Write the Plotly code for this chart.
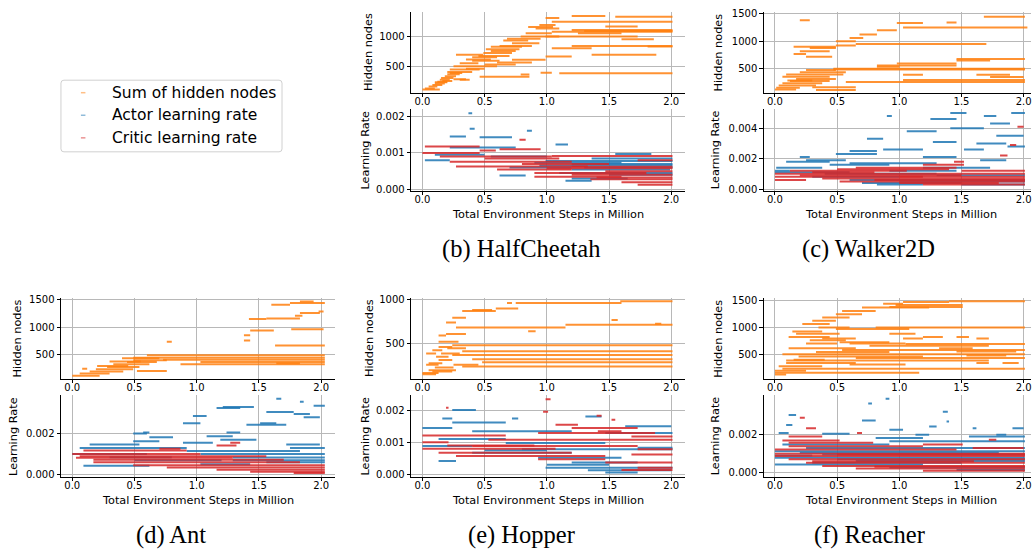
import plotly.graph_objects as go

W, H = 1032, 554

# ---------------- data: segments [x_start, x_end, value] (x in million steps) -------------
# (b) HalfCheetah
hc_hidden = [
    [0.00, 0.14, 135], [0.02, 0.10, 150], [0.05, 0.12, 180], [0.08, 0.16, 205], [0.10, 0.18, 230],
    [0.12, 0.20, 260], [0.14, 0.22, 290], [0.15, 0.25, 320], [0.18, 0.27, 350], [0.20, 0.30, 380],
    [0.22, 0.32, 400], [0.16, 0.24, 270], [0.25, 0.35, 300], [0.30, 0.38, 290], [0.10, 0.20, 250],
    [0.46, 0.86, 340], [0.79, 0.86, 376], [0.25, 0.60, 510], [0.22, 0.46, 457], [0.60, 0.88, 575],
    [0.72, 0.99, 618], [0.27, 0.49, 700], [0.49, 0.72, 726], [0.51, 0.78, 790], [0.62, 0.88, 844],
    [0.72, 0.94, 887], [0.79, 1.10, 995], [0.83, 1.04, 1048], [0.91, 1.10, 1129], [0.94, 1.07, 1183],
    [0.99, 1.10, 1300], [0.30, 0.45, 560], [0.35, 0.55, 620], [0.40, 0.60, 660], [0.55, 0.75, 760],
    [0.65, 0.85, 930], [0.95, 1.04, 405], [1.10, 2.01, 398], [0.99, 1.20, 672], [1.36, 1.88, 699],
    [1.04, 1.36, 806], [1.20, 2.01, 844], [1.81, 2.01, 833], [1.04, 2.01, 1075], [1.20, 2.01, 1102],
    [0.99, 1.73, 995], [1.04, 2.01, 1237], [1.55, 2.01, 1317], [1.20, 1.47, 1330], [1.47, 1.73, 1160],
    [1.60, 1.86, 950], [0.40, 0.62, 600], [0.45, 0.70, 680], [0.55, 0.80, 830], [0.68, 0.95, 960],
    [0.85, 1.05, 1150], [0.20, 0.40, 420], [0.35, 0.50, 470], [0.50, 0.75, 540], [1.30, 2.01, 1085],
    [1.25, 1.60, 1050],
]
hc_actor_lr = [
    [0.02, 0.22, 0.00080], [0.22, 0.75, 0.00115], [0.46, 0.72, 0.00143], [0.22, 0.35, 0.00145],
    [0.37, 0.40, 0.00209], [0.38, 0.42, 0.00166], [0.84, 0.88, 0.00161], [1.07, 1.17, 0.00123],
    [1.55, 1.84, 0.00097], [0.99, 2.01, 0.00078], [1.20, 2.01, 0.00070], [0.94, 2.01, 0.00066],
    [1.20, 1.99, 0.00055], [1.10, 2.01, 0.00045], [1.20, 1.65, 0.00030], [1.15, 1.36, 0.00024],
    [1.36, 2.01, 0.00085], [0.62, 0.83, 0.00038], [0.10, 0.50, 0.00095], [0.55, 1.00, 0.00090],
    [0.70, 1.20, 0.00060], [0.90, 1.60, 0.00073], [1.30, 2.01, 0.00060], [1.50, 2.01, 0.00040],
]
hc_critic_lr = [
    [0.00, 0.46, 0.00100], [0.02, 0.46, 0.00118], [0.14, 1.04, 0.00090], [0.22, 1.20, 0.00076],
    [0.27, 1.33, 0.00063], [1.73, 2.01, 0.00080], [1.20, 2.01, 0.00062], [1.47, 2.01, 0.00050],
    [1.20, 2.01, 0.00040], [1.35, 2.01, 0.00028], [1.60, 2.01, 0.00020], [1.73, 2.01, 0.00013],
    [1.04, 2.01, 0.00092], [0.78, 0.83, 0.00136], [0.46, 0.59, 0.00107], [0.50, 1.10, 0.00085],
    [0.60, 1.20, 0.00055], [0.90, 1.60, 0.00035], [0.62, 0.95, 0.00110], [0.80, 1.50, 0.00070],
    [1.00, 2.01, 0.00058], [0.90, 1.80, 0.00045], [1.40, 2.01, 0.00033],
]

# (c) Walker2D
wk_hidden = [
    [0.49, 0.65, 923], [0.65, 1.70, 950], [1.03, 2.03, 1250], [1.68, 2.01, 1440], [0.20, 0.28, 1380],
    [0.98, 1.19, 1330], [1.38, 1.46, 1340], [0.82, 0.98, 1200], [0.68, 0.82, 1120], [0.60, 0.71, 1060],
    [0.15, 0.49, 900], [0.28, 0.49, 880], [0.20, 0.44, 820], [0.15, 0.25, 770], [0.25, 0.46, 720],
    [1.46, 2.01, 680], [1.46, 1.73, 650], [0.98, 1.46, 600], [0.82, 1.46, 560], [0.47, 2.01, 505],
    [0.47, 2.01, 490], [0.57, 2.01, 265], [1.03, 2.01, 300], [0.00, 0.17, 130], [0.01, 0.20, 160],
    [0.03, 0.33, 200], [0.06, 0.38, 240], [0.12, 0.44, 280], [0.17, 0.49, 320], [0.06, 0.44, 360],
    [0.09, 0.55, 400], [0.20, 0.57, 440], [0.25, 0.49, 480], [0.30, 0.65, 170], [0.33, 0.65, 120],
    [1.03, 1.19, 394], [1.62, 1.89, 394], [1.73, 2.00, 353], [0.49, 0.65, 1000], [0.82, 1.00, 540],
    [0.10, 0.30, 290],
]
wk_actor_lr = [
    [1.41, 1.54, 0.0050], [1.90, 2.01, 0.0050], [0.90, 0.94, 0.0048], [1.68, 1.78, 0.0048],
    [1.25, 1.46, 0.0046], [1.73, 1.89, 0.0043], [1.41, 1.68, 0.0040], [1.06, 1.30, 0.0038],
    [1.78, 2.00, 0.0035], [0.74, 0.87, 0.0033], [1.62, 1.86, 0.0030], [1.27, 1.46, 0.0031],
    [1.87, 2.01, 0.0028], [0.87, 1.19, 0.0026], [1.52, 1.68, 0.0026], [0.60, 0.82, 0.0025],
    [0.49, 0.82, 0.0023], [0.20, 0.28, 0.0021], [1.19, 1.46, 0.0021], [0.25, 0.57, 0.0019],
    [1.65, 1.86, 0.0019], [0.09, 0.44, 0.0018], [0.44, 0.92, 0.0016], [0.01, 0.38, 0.0014],
    [1.19, 1.73, 0.0014], [0.00, 0.12, 0.0012], [0.92, 1.46, 0.0012], [0.30, 1.00, 0.0008],
    [0.60, 2.01, 0.0006], [0.70, 1.50, 0.0004], [0.82, 1.19, 0.0003], [1.30, 2.01, 0.0009],
    [1.50, 2.01, 0.0003], [0.00, 0.60, 0.0011], [0.40, 1.30, 0.0010], [1.00, 2.01, 0.0005],
    [0.60, 1.30, 0.0017],
]
wk_critic_lr = [
    [0.00, 2.01, 0.0010], [0.12, 1.06, 0.0012], [0.00, 1.19, 0.0008], [0.38, 2.01, 0.0007],
    [0.52, 2.01, 0.0005], [1.19, 2.01, 0.0003], [0.65, 1.46, 0.0014], [1.19, 1.52, 0.0016],
    [1.44, 1.52, 0.0018], [1.81, 1.87, 0.0022], [1.89, 1.94, 0.0029], [1.95, 2.00, 0.0041],
    [0.00, 0.25, 0.0006], [1.50, 2.01, 0.0012], [0.30, 0.80, 0.0011], [1.00, 1.80, 0.0004],
    [0.20, 1.50, 0.0009], [0.80, 2.01, 0.0006], [1.00, 2.01, 0.0008], [0.50, 1.40, 0.0013],
]

# (d) Ant
ant_hidden = [
    [0.00, 0.22, 120], [0.06, 0.30, 162], [0.14, 0.41, 198], [0.19, 0.49, 240], [0.28, 0.54, 281],
    [0.33, 0.62, 329], [0.44, 0.68, 371], [0.49, 0.76, 401], [0.08, 0.12, 246], [0.52, 0.76, 209],
    [0.60, 2.03, 491], [0.49, 2.03, 449], [0.73, 2.03, 413], [1.03, 2.03, 371], [0.87, 2.03, 329],
    [1.64, 1.83, 347], [0.76, 0.80, 737], [1.38, 1.43, 760], [1.38, 1.43, 856], [1.43, 1.62, 940],
    [1.76, 2.02, 965], [1.42, 1.56, 1150], [1.56, 1.83, 1160], [1.79, 1.85, 1210], [1.83, 1.99, 1257],
    [1.98, 2.02, 1287], [1.60, 1.75, 1407], [1.75, 2.03, 1437], [1.83, 1.94, 1467], [1.63, 2.03, 671],
    [0.40, 0.70, 440], [0.30, 0.55, 380], [0.20, 0.45, 300],
]
ant_actor_lr = [
    [0.00, 0.60, 0.00100], [0.14, 0.54, 0.00147], [0.06, 0.92, 0.00130], [0.49, 0.70, 0.00163],
    [0.49, 0.60, 0.00200], [0.57, 0.62, 0.00206], [0.62, 0.81, 0.00182], [0.89, 1.13, 0.00155],
    [0.92, 1.83, 0.00115], [1.03, 2.03, 0.00100], [1.29, 2.03, 0.00083], [1.29, 2.03, 0.00070],
    [1.56, 2.03, 0.00060], [0.09, 0.62, 0.00043], [1.03, 1.43, 0.00050], [0.97, 1.08, 0.00286],
    [0.89, 1.03, 0.00250], [1.51, 1.64, 0.00250], [1.21, 1.46, 0.00330], [1.16, 1.35, 0.00325],
    [1.56, 1.78, 0.00306], [1.78, 1.91, 0.00296], [1.86, 1.99, 0.00280], [1.40, 1.72, 0.00243],
    [1.24, 1.35, 0.00206], [1.08, 1.29, 0.00187], [1.19, 1.48, 0.00170], [1.64, 1.68, 0.00370],
    [1.83, 1.86, 0.00355], [1.94, 2.03, 0.00336], [1.72, 1.99, 0.00147], [1.75, 2.03, 0.00130],
    [0.30, 0.80, 0.00085], [0.50, 1.20, 0.00070],
]
ant_critic_lr = [
    [0.00, 1.03, 0.00100], [0.09, 0.92, 0.00118], [0.06, 1.56, 0.00090], [0.03, 1.29, 0.00082],
    [0.17, 1.70, 0.00072], [0.17, 1.83, 0.00060], [0.49, 2.03, 0.00046], [0.76, 2.03, 0.00035],
    [1.16, 2.03, 0.00024], [1.43, 2.03, 0.00014], [1.78, 2.03, 0.00008], [1.16, 1.32, 0.00142],
    [1.27, 1.35, 0.00155], [0.70, 0.87, 0.00126],
]

# (e) Hopper
hop_hidden = [
    [1.59, 2.01, 978], [0.75, 1.60, 959], [0.68, 0.72, 959], [0.59, 0.77, 896], [0.32, 0.59, 866],
    [0.40, 0.56, 877], [0.24, 0.35, 791], [1.52, 1.57, 765], [0.19, 0.27, 735], [1.15, 2.01, 709],
    [1.87, 1.92, 720], [0.27, 1.15, 679], [0.85, 0.91, 634], [0.13, 0.19, 586], [0.19, 0.35, 604],
    [0.13, 0.29, 515], [0.24, 2.01, 474], [0.32, 2.01, 407], [0.24, 2.01, 362], [0.40, 2.01, 313],
    [0.48, 2.01, 280], [0.32, 2.01, 231], [0.05, 0.27, 187], [0.00, 0.13, 157], [0.00, 0.11, 142],
    [0.08, 0.24, 175], [0.03, 0.13, 250], [0.05, 0.16, 269], [0.13, 0.24, 306], [0.11, 0.21, 343],
    [0.03, 0.11, 381], [0.08, 0.16, 418], [0.13, 0.24, 455], [0.20, 0.35, 440], [0.15, 0.30, 380],
    [0.10, 0.25, 220], [0.25, 0.45, 250],
]
hop_actor_lr = [
    [0.24, 0.43, 0.00200], [0.16, 0.24, 0.00174], [0.72, 0.77, 0.00174], [0.24, 0.67, 0.00161],
    [0.00, 0.24, 0.00144], [0.40, 1.20, 0.00134], [0.13, 0.67, 0.00110], [0.67, 1.47, 0.00098],
    [0.80, 2.01, 0.00078], [0.40, 1.20, 0.00067], [0.93, 1.60, 0.00052], [1.20, 1.73, 0.00037],
    [0.99, 2.01, 0.00021], [1.33, 2.00, 0.00013], [1.47, 1.73, 0.00006], [1.47, 2.01, 0.00129],
    [1.63, 2.00, 0.00150], [1.31, 1.44, 0.00180], [0.13, 0.27, 0.00042], [0.00, 0.40, 0.00088],
    [1.73, 2.01, 0.00083], [0.50, 1.00, 0.00075], [1.00, 1.50, 0.00030],
]
hop_critic_lr = [
    [0.00, 0.21, 0.00100], [0.00, 0.67, 0.00121], [0.00, 1.07, 0.00080], [0.13, 1.20, 0.00067],
    [0.27, 1.47, 0.00057], [0.40, 1.73, 0.00088], [0.53, 2.01, 0.00108], [0.93, 1.87, 0.00129],
    [1.20, 1.73, 0.00144], [1.07, 1.25, 0.00154], [0.19, 0.21, 0.00207], [0.99, 1.03, 0.00234],
    [0.97, 1.01, 0.00195], [1.40, 1.44, 0.00182], [1.52, 1.55, 0.00170], [1.68, 2.01, 0.00118],
    [1.73, 2.01, 0.00078], [1.68, 2.01, 0.00062], [1.47, 2.01, 0.00037], [1.73, 2.01, 0.00021],
    [1.60, 2.01, 0.00014], [0.93, 1.47, 0.00047], [1.41, 1.60, 0.00134], [0.20, 0.90, 0.00090],
]

# (f) Reacher
re_hidden = [
    [1.40, 2.01, 1490], [1.03, 1.40, 1473], [0.87, 1.03, 1442], [0.97, 1.51, 1418], [0.70, 1.24, 1370],
    [0.92, 1.51, 1382], [0.54, 0.81, 1309], [0.49, 0.70, 1248], [0.38, 0.60, 1188], [0.30, 0.49, 1127],
    [0.22, 0.44, 1067], [0.81, 2.01, 1000], [0.49, 1.08, 970], [0.14, 0.38, 927], [0.17, 0.52, 885],
    [0.11, 0.44, 824], [0.38, 0.65, 794], [0.28, 0.57, 764], [0.52, 0.92, 727], [1.05, 2.01, 691],
    [0.60, 1.05, 703], [0.76, 1.72, 660], [0.11, 0.65, 612], [0.54, 2.01, 582], [0.33, 0.92, 545],
    [0.06, 2.01, 503], [0.19, 1.19, 461], [0.65, 2.01, 430], [0.09, 1.72, 388], [0.09, 0.65, 339],
    [0.60, 1.05, 309], [0.03, 0.38, 279], [0.06, 2.01, 230], [0.00, 0.25, 194], [0.00, 1.16, 158],
    [0.00, 0.09, 127], [1.19, 1.35, 824], [1.46, 1.56, 824], [0.92, 1.13, 885], [1.03, 1.19, 794],
    [1.62, 1.72, 794], [1.46, 1.94, 552], [1.32, 1.59, 612], [1.54, 1.86, 479], [1.62, 1.72, 339],
    [1.83, 1.96, 339], [0.25, 0.50, 700], [0.15, 0.40, 400], [0.35, 0.60, 1000],
]
re_actor_lr = [
    [0.09, 0.14, 0.00252], [0.11, 0.17, 0.00304], [0.03, 0.11, 0.00209], [0.38, 0.60, 0.00205],
    [0.92, 1.03, 0.00226], [0.70, 0.81, 0.00275], [0.75, 0.78, 0.00365], [0.89, 0.92, 0.00390],
    [1.35, 1.39, 0.00322], [1.38, 1.40, 0.00270], [1.24, 1.30, 0.00243], [1.59, 1.62, 0.00235],
    [1.91, 2.00, 0.00235], [1.56, 2.01, 0.00191], [0.81, 1.19, 0.00183], [0.92, 2.01, 0.00165],
    [0.06, 0.92, 0.00148], [0.25, 2.01, 0.00130], [0.00, 2.01, 0.00113], [0.38, 2.01, 0.00096],
    [0.00, 2.01, 0.00078], [0.65, 2.01, 0.00061], [0.00, 1.19, 0.00043], [0.92, 2.01, 0.00026],
    [1.46, 2.01, 0.00014], [1.13, 1.24, 0.00200], [1.78, 1.86, 0.00200], [0.00, 0.30, 0.00090],
    [0.20, 1.80, 0.00105], [0.50, 2.01, 0.00070], [0.30, 1.50, 0.00052],
]
re_critic_lr = [
    [0.00, 2.01, 0.00100], [0.06, 0.52, 0.00170], [0.11, 0.79, 0.00157], [0.11, 1.19, 0.00139],
    [0.00, 1.46, 0.00122], [0.00, 2.01, 0.00087], [0.11, 2.01, 0.00070], [0.25, 2.01, 0.00052],
    [0.38, 2.01, 0.00035], [0.65, 2.01, 0.00021], [1.19, 2.01, 0.00009], [0.11, 0.38, 0.00191],
    [0.20, 0.24, 0.00290], [0.25, 0.33, 0.00235], [0.66, 0.70, 0.00209], [1.19, 1.51, 0.00148],
    [1.72, 1.78, 0.00174], [1.59, 2.00, 0.00130], [0.50, 2.01, 0.00095], [0.30, 1.60, 0.00060],
    [0.80, 2.01, 0.00030],
]

series_names = ["Sum of hidden nodes", "Actor learning rate", "Critic learning rate"]
x_ticks = [0.0, 0.5, 1.0, 1.5, 2.0]

# ---------------- styling / layout -------------
ORANGE = "rgba(255,127,14,0.85)"
BLUE = "rgba(31,119,180,0.85)"
RED = "rgba(214,39,40,0.85)"
FONT = "DejaVu Sans"
LW = 2.0

panels = [
    dict(cap="(b) HalfCheetah", hidden=hc_hidden, actor=hc_actor_lr, critic=hc_critic_lr,
         xpx=(411.6, 685.6), row=0, xr=[-0.09, 2.11], hr=[81, 1398], ht=[500, 1000],
         lr=[-0.00003, 0.0022], lt=[0.0, 0.001, 0.002], hl=369, ll=366, capx=522.5),
    dict(cap="(c) Walker2D", hidden=wk_hidden, actor=wk_actor_lr, critic=wk_critic_lr,
         xpx=(764.5, 1032), row=0, xr=[-0.09, 2.059], hr=[71, 1530], ht=[500, 1000, 1500],
         lr=[-0.0001, 0.00525], lt=[0.0, 0.002, 0.004], hl=719, ll=717, capx=869, xc=901.5),
    dict(cap="(d) Ant", hidden=ant_hidden, actor=ant_actor_lr, critic=ant_critic_lr,
         xpx=(61.1, 335.1), row=1, xr=[-0.09, 2.11], hr=[66, 1530], ht=[500, 1000, 1500],
         lr=[-0.0001, 0.00387], lt=[0.0, 0.002], hl=17, ll=14, capx=171),
    dict(cap="(e) Hopper", hidden=hop_hidden, actor=hop_actor_lr, critic=hop_critic_lr,
         xpx=(411.6, 685.6), row=1, xr=[-0.09, 2.11], hr=[90, 1016], ht=[500, 1000],
         lr=[-0.00007, 0.00246], lt=[0.0, 0.001, 0.002], hl=370, ll=366, capx=522.5),
    dict(cap="(f) Reacher", hidden=re_hidden, actor=re_actor_lr, critic=re_critic_lr,
         xpx=(764.5, 1032), row=1, xr=[-0.09, 2.059], hr=[45, 1549], ht=[500, 1000, 1500],
         lr=[-0.00022, 0.00409], lt=[0.0, 0.002], hl=719, ll=717, capx=870, xc=901.5),
]

ROW_OFF = 290.3
TOP_BOX = (8.0, 90.0)
BOT_BOX = (106.7, 189.3)


def py(p):
    return 1 - p / H


def px(p):
    return p / W


def seg_xy(segs):
    xs, ys = [], []
    for x0, x1, v in segs:
        xs += [x0, x1, None]
        ys += [v, v, None]
    return xs, ys


fig = go.Figure()
layout = dict(
    width=W, height=H, margin=dict(l=0, r=0, t=0, b=0),
    paper_bgcolor="white", plot_bgcolor="white", showlegend=False,
    font=dict(family=FONT, size=10, color="#000000"),
)
annotations = []
shapes = []

axis_common = dict(
    showline=True, linecolor="#000000", linewidth=1, mirror=False,
    showgrid=True, gridcolor="#b8b8b8", gridwidth=1, zeroline=False,
    ticks="outside", ticklen=3.5, tickwidth=0.8, tickcolor="#000000",
    tickfont=dict(family=FONT, size=10, color="#000000"),
)

ai = 0
for p in panels:
    off = ROW_OFF * p["row"]
    xd = [px(p["xpx"][0]), min(1.0, px(p["xpx"][1]))]
    for kind, box in (("top", TOP_BOX), ("bot", BOT_BOX)):
        ai += 1
        xa = "xaxis" if ai == 1 else f"xaxis{ai}"
        ya = "yaxis" if ai == 1 else f"yaxis{ai}"
        xref = "x" if ai == 1 else f"x{ai}"
        yref = "y" if ai == 1 else f"y{ai}"
        yd = [py(box[1] + off), py(box[0] + off)]
        layout[xa] = dict(axis_common, domain=xd, anchor=yref, range=p["xr"],
                          tickvals=x_ticks, tickformat=".1f", ticklabelstandoff=-4,
                          ticklabeloverflow="allow")
        if kind == "top":
            layout[ya] = dict(axis_common, domain=yd, anchor=xref, range=p["hr"],
                              tickvals=p["ht"], tickformat="d")
            xs, ys = seg_xy(p["hidden"])
            fig.add_trace(go.Scatter(x=xs, y=ys, mode="lines", name=series_names[0],
                                     line=dict(color=ORANGE, width=LW),
                                     xaxis=xref, yaxis=yref, hoverinfo="skip"))
            annotations.append(dict(text="Hidden nodes", x=px(p["hl"]), y=(yd[0] + yd[1]) / 2,
                                    xref="paper", yref="paper", textangle=-90, showarrow=False,
                                    xanchor="center", yanchor="middle",
                                    font=dict(family=FONT, size=11.3, color="#000000")))
        else:
            layout[ya] = dict(axis_common, domain=yd, anchor=xref, range=p["lr"],
                              tickvals=p["lt"], tickformat=".3f")
            xs, ys = seg_xy(p["actor"])
            fig.add_trace(go.Scatter(x=xs, y=ys, mode="lines", name=series_names[1],
                                     line=dict(color=BLUE, width=LW),
                                     xaxis=xref, yaxis=yref, hoverinfo="skip"))
            xs, ys = seg_xy(p["critic"])
            fig.add_trace(go.Scatter(x=xs, y=ys, mode="lines", name=series_names[2],
                                     line=dict(color=RED, width=LW),
                                     xaxis=xref, yaxis=yref, hoverinfo="skip"))
            annotations.append(dict(text="Learning Rate", x=px(p["ll"]), y=(yd[0] + yd[1]) / 2,
                                    xref="paper", yref="paper", textangle=-90, showarrow=False,
                                    xanchor="center", yanchor="middle",
                                    font=dict(family=FONT, size=11.3, color="#000000")))
            xc = p.get("xc", (p["xpx"][0] + p["xpx"][1]) / 2)
            annotations.append(dict(text="Total Environment Steps in Million", x=px(xc),
                                    y=py(213.3 + off), xref="paper", yref="paper", showarrow=False,
                                    xanchor="center", yanchor="middle",
                                    font=dict(family=FONT, size=11.3, color="#000000")))
    annotations.append(dict(text=p["cap"], x=px(p["capx"]), y=py(248.5 + off), xref="paper",
                            yref="paper", showarrow=False, xanchor="center", yanchor="middle",
                            font=dict(family="Liberation Serif", size=24.5, color="#000000")))

# ---------------- legend (drawn) -------------
lx0, ly0, lx1, ly1, r = 61.0, 77.3, 282.3, 150.0, 3.0


def P(x, y):
    return f"{px(x):.5f},{py(y):.5f}"


path = (f"M {P(lx0 + r, ly0)} L {P(lx1 - r, ly0)} Q {P(lx1, ly0)} {P(lx1, ly0 + r)} "
        f"L {P(lx1, ly1 - r)} Q {P(lx1, ly1)} {P(lx1 - r, ly1)} L {P(lx0 + r, ly1)} "
        f"Q {P(lx0, ly1)} {P(lx0, ly1 - r)} L {P(lx0, ly0 + r)} Q {P(lx0, ly0)} {P(lx0 + r, ly0)} Z")
shapes.append(dict(type="path", path=path, xref="paper", yref="paper",
                   line=dict(color="#d0d0d0", width=1), fillcolor="rgba(255,255,255,0.8)"))
leg_cols = ["rgba(255,127,14,0.5)", "rgba(31,119,180,0.5)", "rgba(214,39,40,0.5)"]
for i, (nm, c) in enumerate(zip(series_names, leg_cols)):
    yy = 90.0 + i * 22.9
    shapes.append(dict(type="line", xref="paper", yref="paper", x0=px(81), x1=px(85.5),
                       y0=py(yy), y1=py(yy), line=dict(color=c, width=1.5)))
    annotations.append(dict(text=nm, x=px(110.5), y=py(yy), xref="paper", yref="paper",
                            showarrow=False, xanchor="left", yanchor="middle",
                            font=dict(family=FONT, size=15.5, color="#000000")))

layout["annotations"] = annotations
layout["shapes"] = shapes
fig.update_layout(**layout)
fig.write_html("out.html", config={"displayModeBar": False},
               post_script="document.body.style.margin='0px';document.body.style.overflow='hidden';")
